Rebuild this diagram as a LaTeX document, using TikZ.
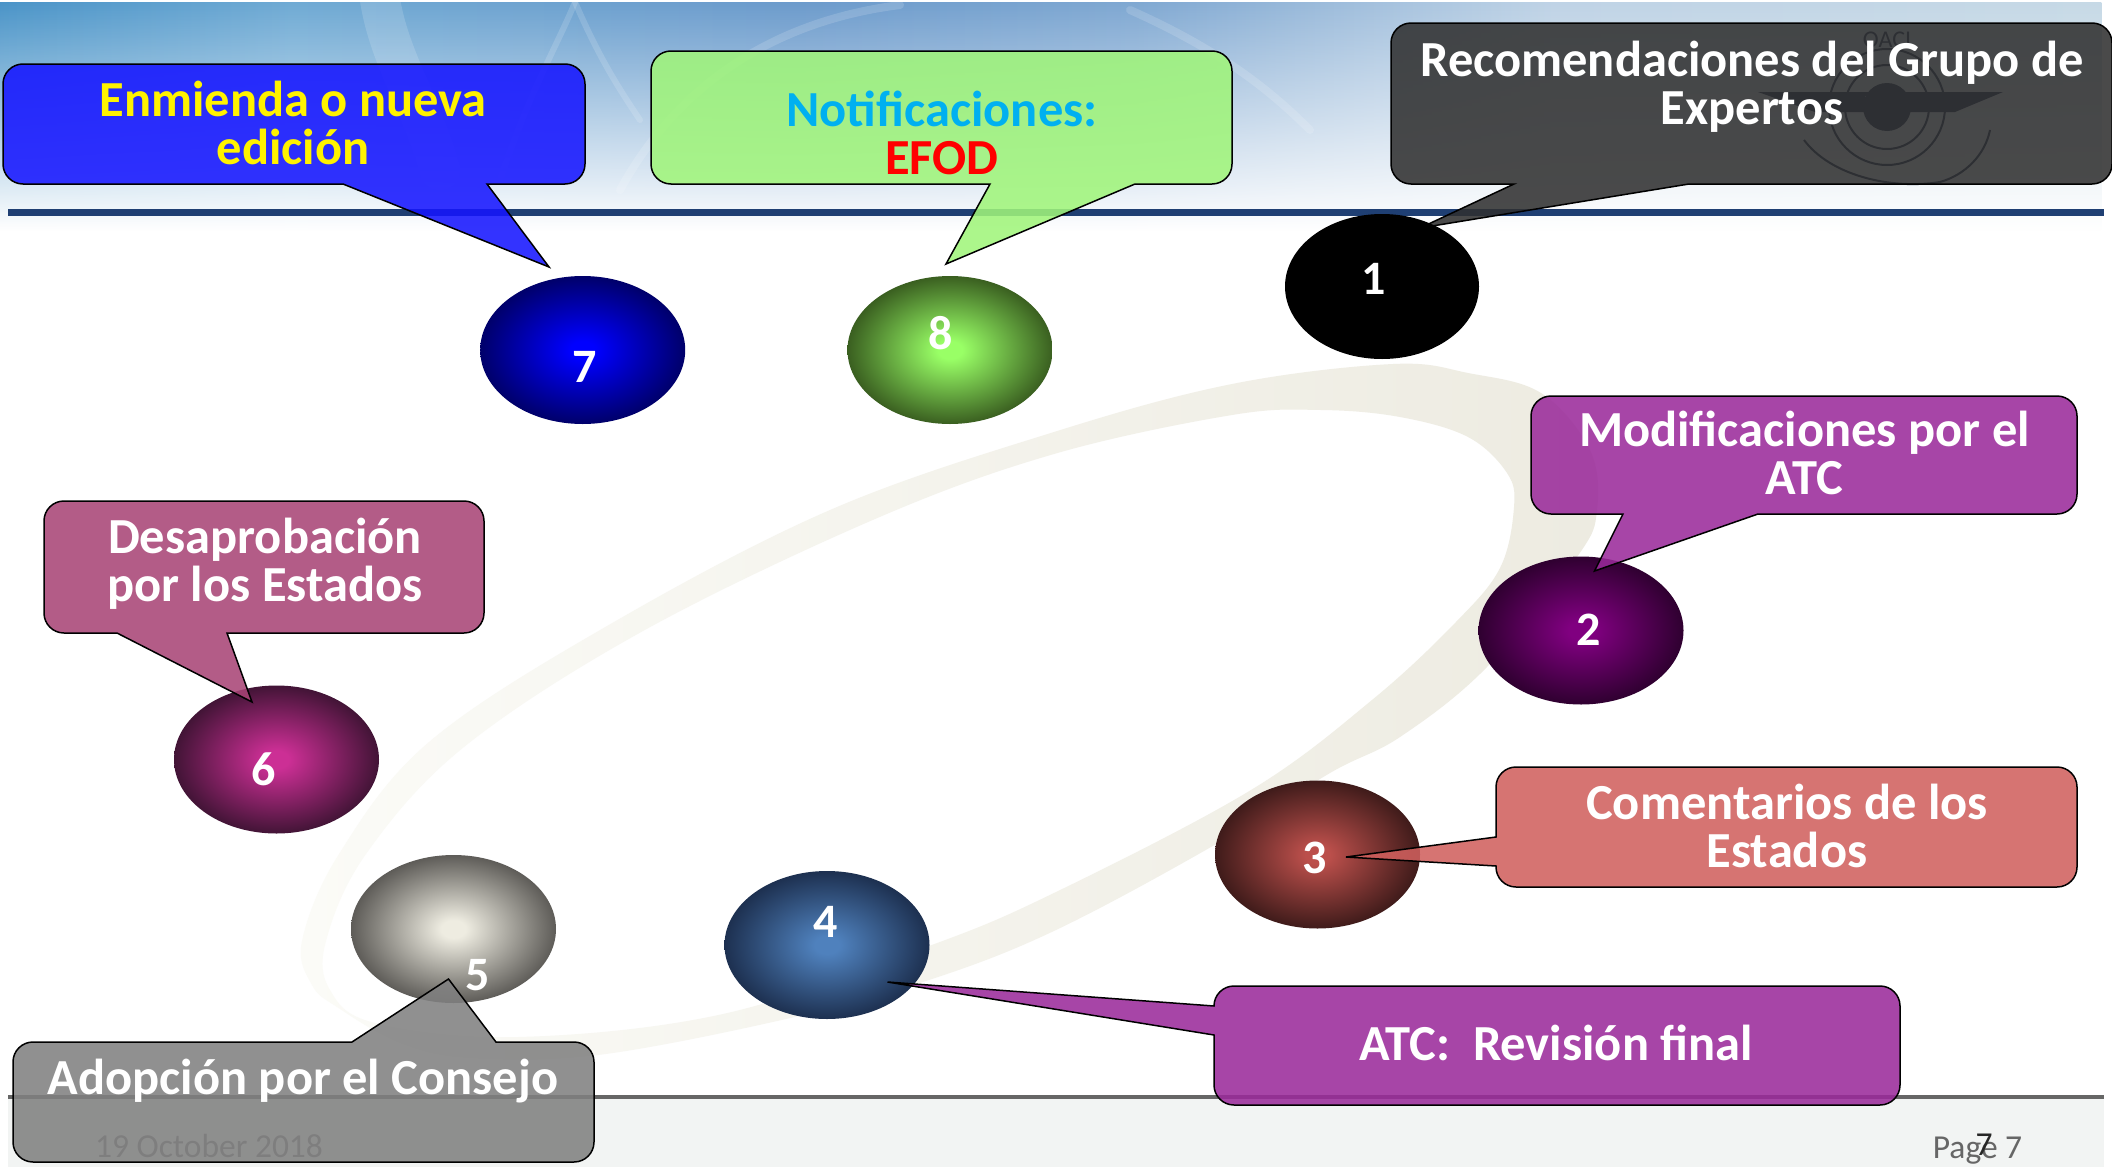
\documentclass[tikz,border=0pt]{standalone}
\usepackage{fontspec}
\setmainfont{Carlito}
\usetikzlibrary{shapes.geometric,fadings}
\definecolor{hdrline}{HTML}{1F3F73}
\definecolor{hA}{HTML}{4A94C8}
\definecolor{hB}{HTML}{6FAAD4}
\definecolor{hC}{HTML}{6C9BCC}
\definecolor{hD}{HTML}{7FA8D2}
\definecolor{hE}{HTML}{BFD3E6}
\definecolor{hF}{HTML}{C6D9E6}
\definecolor{emb}{HTML}{1C2A4C}
\definecolor{footbg}{HTML}{F2F4F3}
\definecolor{ringL}{HTML}{FBFBF7}
\definecolor{ringR}{HTML}{EDEBE1}
\definecolor{fillblue}{HTML}{1515FF}
\definecolor{fillgreen}{HTML}{A0F57A}
\definecolor{filldark}{HTML}{303030}
\definecolor{fillpurple}{HTML}{9A2A9A}
\definecolor{fillrose}{HTML}{A84476}
\definecolor{fillsalmon}{HTML}{D0605E}
\definecolor{fillgrey}{HTML}{808080}
\definecolor{txtcyan}{HTML}{00B0F0}
\pgfdeclarehorizontalshading{hdrshade}{100bp}{
 color(0bp)=(hA); color(25bp)=(hA); color(32bp)=(hB); color(44bp)=(hC); color(52bp)=(hD); color(62bp)=(hE); color(75bp)=(hF); color(100bp)=(hF)}
\tikzfading[name=hdrfade, top color=transparent!0, middle color=transparent!30, bottom color=transparent!100]
\newcommand\declball[3]{\definecolor{#1I}{HTML}{#2}\definecolor{#1O}{HTML}{#3}%
 \pgfdeclareradialshading{#1}{\pgfpoint{0bp}{0bp}}{color(0bp)=(#1I);color(3bp)=(#1I);color(25bp)=(#1O);color(50bp)=(#1O)}}
\declball{ballseven}{0000FF}{00006A}
\declball{balleight}{99FF66}{3A5F20}
\declball{balltwo}{800080}{2F0030}
\declball{ballthree}{BB4F4B}{3F1B1A}
\declball{ballfour}{4F81BD}{1D3050}
\declball{ballfive}{EEECE1}{5E5C58}
\declball{ballsix}{CC2F95}{421436}
\tikzset{
 cbox/.style={draw=black,line width=1.5pt,fill opacity=.87,line join=miter},
 lab/.style={text=white,font=\fontsize{50.5}{48}\selectfont\bfseries,align=center,anchor=base,inner sep=0pt,yshift=-1.5pt},
 num/.style={text=white,font=\fontsize{48}{48}\selectfont\bfseries,anchor=base,inner sep=0pt,yshift=-1.5pt},
 ball/.style={ellipse,minimum width=205pt,minimum height=148pt,inner sep=0pt,shade,shading=#1},
 foot/.style={font=\fontsize{33.5}{36}\selectfont,anchor=base,inner sep=0pt},
}
\begin{document}
\begin{tikzpicture}[x=1pt,y=-1pt]
\useasboundingbox (0,0) rectangle (2112,1167);
\fill[white] (0,0) rectangle (2112,1167);
% header
\shade[shading=hdrshade,path fading=hdrfade] (0,2) rectangle (2112,230);
\begin{scope}[white,opacity=.15,line cap=round]
 \draw[line width=40pt] (380,0) .. controls (390,60) and (420,100) .. (440,170);
 \draw[line width=6pt] (500,180) .. controls (530,90) and (560,40) .. (575,2);
 \draw[line width=6pt] (575,2) .. controls (600,60) and (620,90) .. (640,120);
 \draw[line width=8pt] (620,190) .. controls (680,80) and (780,20) .. (900,5);
 \draw[line width=8pt] (1130,10) .. controls (1220,50) and (1270,90) .. (1310,130);
\end{scope}
% emblem
\begin{scope}[draw=emb,line width=2pt]
 \node[text=emb,font=\fontsize{24}{26}\selectfont] (oaci) at (1887,40) {OACI};
 \draw (1887,107) circle[radius=42];
 \draw (1887,107) circle[radius=58];
 \draw (1804,140) .. controls (1830,175) and (1890,190) .. (1940,182) .. controls (1965,175) and (1985,155) .. (1990,130);
 \fill[emb] (1887,107) circle[radius=24];
 \fill[emb] (1758,92) -- (2003,92) -- (1955,112) -- (1905,112) -- (1905,96) -- (1865,96) -- (1865,112) -- (1815,112) -- cycle;
\end{scope}
\fill[hdrline] (8,209) rectangle (2104,216);
% footer
\fill[footbg] (8,1097) rectangle (2104,1167);
\fill[black!60] (8,1095) rectangle (2104,1099);
% ring
\shade[left color=ringL,right color=ringR,even odd rule]
 plot[smooth cycle,tension=.6] coordinates {(1232,384) (1393,364) (1468,373) (1541,393) (1590,450) (1597,510) (1577,557) (1486,668) (1400,737) (1330,773) (1218,843) (1056,930) (929,980) (786,1019) (598,1055) (470,1058) (400,1043) (337,1007) (312,985) (302,941) (339,854) (429,742) (607,626) (830,510) (1054,432)}
 plot[smooth cycle,tension=.6] coordinates {(1232,415) (1321,410) (1400,417) (1468,437) (1507,473) (1514,507) (1500,568) (1455,623) (1372,700) (1251,790) (1056,892) (929,946) (723,1014) (518,1037) (375,1023) (330,990) (326,941) (366,854) (464,747) (643,631) (875,519) (1054,454)};
% footer texts
\node[foot,text=black!55] (date) at (209,1157) {19 October 2018};
\node[foot,text=black!60] (page) at (1977.5,1158) {Page 7};
\node[foot,text=black!85] (pg) at (1984,1155) {7};
% callout 1 and its ball
\draw[cbox,fill=filldark] [rounded corners=20] (1700,23) -- (2112,23) -- (2112,184) [sharp corners] -- (1689,184) -- (1420,228) -- (1514,184) [rounded corners=20] -- (1391,184) -- (1391,23) -- cycle;
\node[ellipse,minimum width=194pt,minimum height=145pt,inner sep=0pt,fill=black] (b1) at (1382,286.5) {};
% balls
\node[ball=ballseven] (b7) at (582.7,350) {};
\node[ball=balleight] (b8) at (950,350) {};
\node[ball=balltwo] (b2) at (1581,630.5) {};
\node[ball=ballthree] (b3) at (1317.5,854.5) {};
\node[ball=ballfour] (b4) at (827,945) {};
\node[ball=ballfive] (b5) at (453.5,929) {};
\node[ball=ballsix] (b6) at (276.5,759.5) {};
% numbers
\node[num] (n1) at (1374,293) {1};
\node[num] (n2) at (1589,644) {2};
\node[num] (n3) at (1315,872) {3};
\node[num] (n4) at (826,936) {4};
\node[num] (n5) at (478,989) {5};
\node[num] (n6) at (264,784) {6};
\node[num] (n7) at (584.5,381) {7};
\node[num] (n8) at (941,348) {8};
% callouts
\draw[cbox,fill=fillblue] [rounded corners=20] (300,64) -- (585,64) -- (585,184) [sharp corners] -- (487,184) -- (549,267) -- (343,184) [rounded corners=20] -- (3,184) -- (3,64) -- cycle;
\draw[cbox,fill=fillgreen] [rounded corners=20] (900,51) -- (1232,51) -- (1232,184) [sharp corners] -- (1135,184) -- (946,264) -- (990,184) [rounded corners=20] -- (651,184) -- (651,51) -- cycle;
\draw[cbox,fill=fillpurple] [rounded corners=20] (1800,396) -- (2077,396) -- (2077,514) [sharp corners] -- (1758,514) -- (1594.5,571) -- (1623,514) [rounded corners=20] -- (1531,514) -- (1531,396) -- cycle;
\draw[cbox,fill=fillrose] [rounded corners=20] (250,501) -- (484,501) -- (484,633) [sharp corners] -- (227,633) -- (252,702) -- (117,633) [rounded corners=20] -- (44,633) -- (44,501) -- cycle;
\draw[cbox,fill=fillsalmon] [rounded corners=20] (1800,767) -- (2077,767) -- (2077,887) -- (1496,887) [sharp corners] -- (1496,866) -- (1346,857) -- (1496,837) [rounded corners=20] -- (1496,767) -- cycle;
\draw[cbox,fill=fillpurple] [rounded corners=20] (1500,986) -- (1900,986) -- (1900,1105) -- (1214,1105) [sharp corners] -- (1214,1035) -- (887.5,982) -- (1214,1006) [rounded corners=20] -- (1214,986) -- cycle;
\draw[cbox,fill=fillgrey] [rounded corners=20] (300,1162) -- (13,1162) -- (13,1042) [sharp corners] -- (352,1042) -- (448.5,979) -- (496,1042) [rounded corners=20] -- (594,1042) -- (594,1162) -- cycle;
% labels
\node[lab,text=yellow] (t7) at (293,163) {Enmienda o nueva\\edición};
\node[lab] (t1) at (1752,123) {Recomendaciones del Grupo de\\Expertos};
\node[lab,text=txtcyan] (t8a) at (942,125) {Notificaciones:};
\node[lab,text=red] (t8b) at (942,173) {EFOD};
\node[lab] (t2) at (1804.5,493) {Modificaciones por el\\ATC};
\node[lab] (t6) at (265,600) {Desaprobación\\por los Estados};
\node[lab] (t3) at (1787,866) {Comentarios de los\\Estados};
\node[lab] (t4) at (1556,1059) {ATC:\ \ Revisión final};
\node[lab] (t5) at (303,1093) {Adopción por el Consejo};
\end{tikzpicture}
\end{document}
